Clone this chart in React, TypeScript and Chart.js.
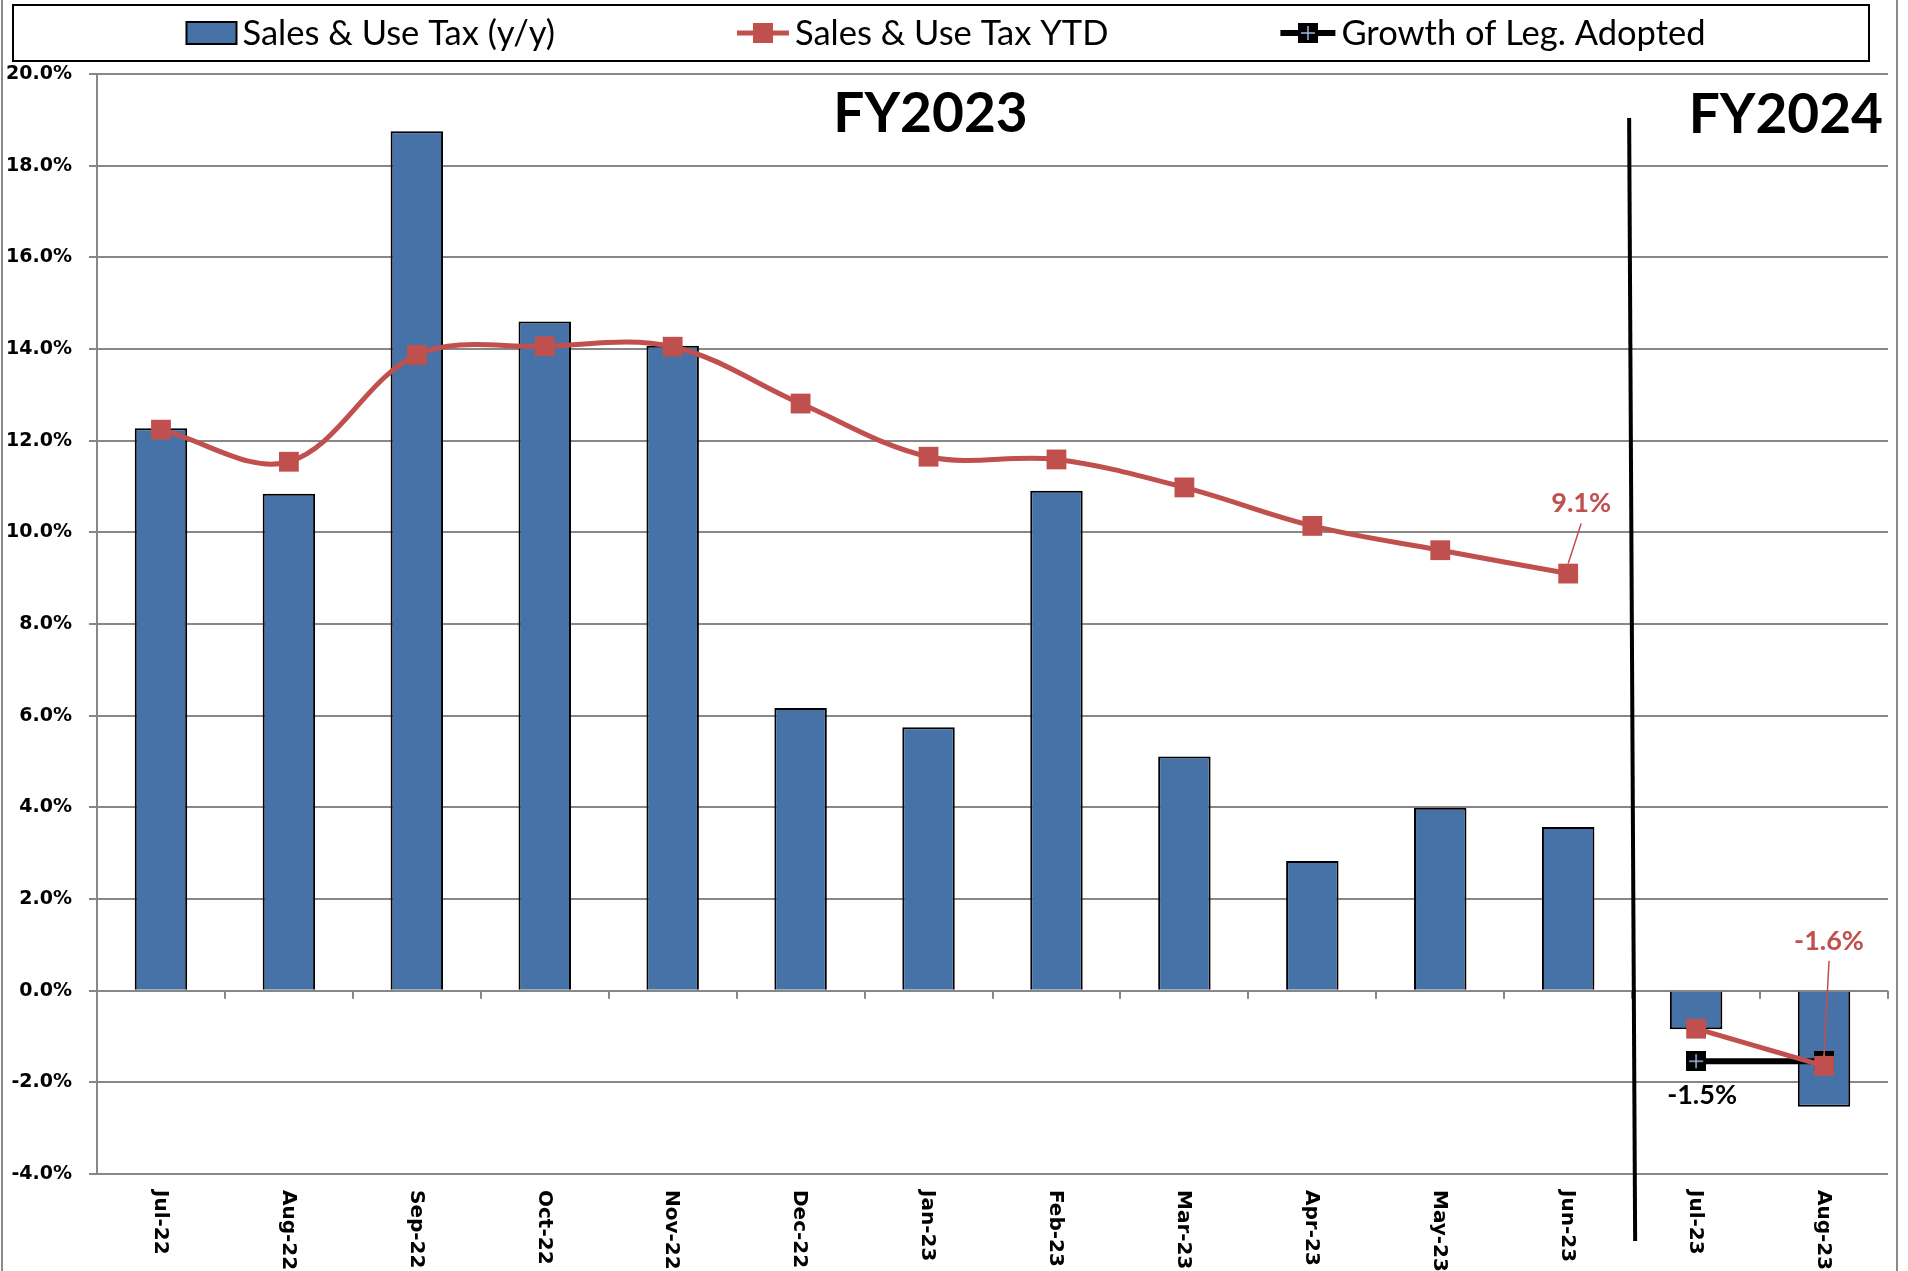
import React, { useEffect, useRef } from 'react';
import { Chart, registerables } from 'chart.js';

Chart.register(...registerables);

// ---- data ----
const categories = [
  'Jul-22', 'Aug-22', 'Sep-22', 'Oct-22', 'Nov-22', 'Dec-22', 'Jan-23',
  'Feb-23', 'Mar-23', 'Apr-23', 'May-23', 'Jun-23', 'Jul-23', 'Aug-23',
];
const salesUseTaxYoY = [12.27, 10.84, 18.75, 14.6, 14.07, 6.17, 5.75, 10.91, 5.11, 2.83, 3.99, 3.57, -0.84, -2.53];
const salesUseTaxYTD = [12.24, 11.54, 13.87, 14.06, 14.05, 12.81, 11.65, 11.59, 10.98, 10.14, 9.61, 9.1, -0.83, -1.64];
const growthLegAdopted: (number | null)[] = [null, null, null, null, null, null, null, null, null, null, null, null, -1.54, -1.54];
const seriesNames = ['Sales & Use Tax (y/y)', 'Sales & Use Tax YTD', 'Growth of Leg. Adopted'];
const fiscalYearLabels = ['FY2023', 'FY2024'];
const fy2024StartIndex = 12;
const yMin = -4;
const yMax = 20;
const yStep = 2;

// ---- styles ----
const BLUE = '#4672A8';
const RED = '#C0504D';
const GRID = '#878787';
const TICK_FONT = 'DejaVu Sans';
const LABEL_FONT = 'Lato';

function makeGrowthMarker(size: number): HTMLCanvasElement {
  const c = document.createElement('canvas');
  c.width = size;
  c.height = size;
  const g = c.getContext('2d')!;
  g.fillStyle = '#000';
  g.fillRect(0, 0, size, size);
  g.strokeStyle = '#9DB9DE';
  g.lineWidth = 1.5;
  g.beginPath();
  g.moveTo(size / 2, 3);
  g.lineTo(size / 2, size - 3);
  g.moveTo(3, size / 2);
  g.lineTo(size - 3, size / 2);
  g.stroke();
  return c;
}

const fmt = (v: number) => `${v.toFixed(1)}%`;

export default function App() {
  const canvasRef = useRef<HTMLCanvasElement | null>(null);

  useEffect(() => {
    document.body.style.margin = '0';
    document.body.style.overflow = 'hidden';
    const canvas = canvasRef.current;
    if (!canvas) return;
    const growthMarker = makeGrowthMarker(20);

    const decor = {
      id: 'decor',
      beforeDraw(chart: any) {
        const ctx = chart.ctx;
        ctx.save();
        ctx.fillStyle = '#fff';
        ctx.fillRect(0, 0, chart.width, chart.height);
        ctx.restore();
      },
      beforeDatasetsDraw(chart: any) {
        const ctx = chart.ctx;
        const xs = chart.scales.x;
        const ys = chart.scales.y;
        const y0 = ys.getPixelForValue(0);
        ctx.save();
        ctx.strokeStyle = GRID;
        ctx.lineWidth = 2;
        ctx.beginPath();
        for (let i = 0; i <= categories.length; i++) {
          const x = i < categories.length
            ? xs.getPixelForValue(i) - (xs.getPixelForValue(1) - xs.getPixelForValue(0)) / 2
            : chart.chartArea.right;
          ctx.moveTo(Math.round(x), y0);
          ctx.lineTo(Math.round(x), y0 + 8);
        }
        ctx.stroke();
        ctx.restore();
      },
      afterDatasetsDraw(chart: any) {
        const ctx = chart.ctx;
        const xs = chart.scales.x;
        const area = chart.chartArea;
        ctx.save();
        // fiscal-year divider
        const xd = (xs.getPixelForValue(fy2024StartIndex - 1) + xs.getPixelForValue(fy2024StartIndex)) / 2;
        ctx.strokeStyle = '#000';
        ctx.lineWidth = 4;
        ctx.beginPath();
        ctx.moveTo(xd - 3, area.top + 44);
        ctx.lineTo(xd + 3, chart.height - 30);
        ctx.stroke();

        // fiscal-year labels
        ctx.fillStyle = '#000';
        ctx.font = `bold 55px ${LABEL_FONT}`;
        ctx.textBaseline = 'alphabetic';
        ctx.textAlign = 'center';
        ctx.fillText(fiscalYearLabels[0], xs.getPixelForValue(6) + 2, area.top + 58);
        ctx.textAlign = 'right';
        ctx.fillText(fiscalYearLabels[1], area.right - 5, area.top + 59);

        // x category labels, rotated to read top to bottom
        ctx.font = `bold 20px ${TICK_FONT}`;
        ctx.textAlign = 'left';
        ctx.textBaseline = 'middle';
        categories.forEach((c, i) => {
          ctx.save();
          ctx.translate(xs.getPixelForValue(i) - 1, area.bottom + 16);
          ctx.rotate(Math.PI / 2);
          ctx.fillText(c, 0, 0);
          ctx.restore();
        });

        // data labels
        const ytd23 = chart.getDatasetMeta(1).data[fy2024StartIndex - 1];
        const ytd24 = chart.getDatasetMeta(2).data[categories.length - 1];
        const gr = chart.getDatasetMeta(3).data[fy2024StartIndex];
        ctx.font = `bold 27px ${LABEL_FONT}`;
        ctx.textAlign = 'center';
        ctx.textBaseline = 'middle';
        // 9.1%
        ctx.fillStyle = RED;
        ctx.strokeStyle = RED;
        ctx.lineWidth = 1.5;
        let lx = ytd23.x + 13;
        let ly = ytd23.y - 70;
        ctx.fillText(fmt(salesUseTaxYTD[fy2024StartIndex - 1]), lx, ly);
        ctx.beginPath();
        ctx.moveTo(lx, ly + 20);
        ctx.lineTo(ytd23.x, ytd23.y - 10);
        ctx.stroke();
        // -1.6%
        lx = ytd24.x + 5;
        ly = ytd24.y - 125;
        ctx.fillText(fmt(salesUseTaxYTD[categories.length - 1]), lx, ly);
        ctx.beginPath();
        ctx.moveTo(lx, ly + 20);
        ctx.lineTo(ytd24.x, ytd24.y - 10);
        ctx.stroke();
        // -1.5%
        ctx.fillStyle = '#000';
        ctx.fillText(fmt(growthLegAdopted[fy2024StartIndex] as number), gr.x + 6, gr.y + 34);
        ctx.restore();
      },
      afterDraw(chart: any) {
        const ctx = chart.ctx;
        ctx.save();
        // outer frame
        ctx.strokeStyle = '#8a8a8a';
        ctx.lineWidth = 2;
        ctx.beginPath();
        ctx.moveTo(2, 0);
        ctx.lineTo(2, chart.height);
        ctx.moveTo(1897, 0);
        ctx.lineTo(1897, chart.height);
        ctx.stroke();

        // legend
        ctx.strokeStyle = '#000';
        ctx.lineWidth = 2;
        ctx.strokeRect(13, 5, 1856, 56);
        ctx.font = `34.5px ${LABEL_FONT}`;
        ctx.textBaseline = 'middle';
        ctx.textAlign = 'left';
        const markerW = [50, 52, 55];
        const textGap = 6;
        const itemGaps = [182, 172];
        const widths = seriesNames.map((n, i) => markerW[i] + textGap + ctx.measureText(n).width);
        const total = widths.reduce((a, b) => a + b, 0) + itemGaps.reduce((a, b) => a + b, 0);
        let x = 946 - total / 2;
        const cy = 33;
        seriesNames.forEach((name, i) => {
          if (i === 0) {
            ctx.fillStyle = BLUE;
            ctx.fillRect(x, cy - 11, markerW[0], 22);
            ctx.strokeStyle = '#000';
            ctx.lineWidth = 2;
            ctx.strokeRect(x, cy - 11, markerW[0], 22);
          } else if (i === 1) {
            ctx.strokeStyle = RED;
            ctx.lineWidth = 5;
            ctx.beginPath();
            ctx.moveTo(x, cy);
            ctx.lineTo(x + markerW[1], cy);
            ctx.stroke();
            ctx.fillStyle = RED;
            ctx.fillRect(x + markerW[1] / 2 - 10, cy - 10, 20, 20);
          } else {
            ctx.strokeStyle = '#000';
            ctx.lineWidth = 6;
            ctx.beginPath();
            ctx.moveTo(x, cy);
            ctx.lineTo(x + markerW[2], cy);
            ctx.stroke();
            ctx.drawImage(growthMarker, x + markerW[2] / 2 - 10, cy - 10);
          }
          ctx.fillStyle = '#000';
          ctx.fillText(name, x + markerW[i] + textGap, cy + 1);
          x += widths[i] + (itemGaps[i] || 0);
        });
        ctx.restore();
      },
    };

    const chart = new Chart(canvas, {
      type: 'bar',
      data: {
        labels: categories,
        datasets: [
          {
            type: 'bar',
            label: seriesNames[0],
            data: salesUseTaxYoY,
            backgroundColor: BLUE,
            borderColor: '#000',
            borderWidth: 2,
            barPercentage: 0.41,
            categoryPercentage: 1,
            order: 3,
          },
          {
            type: 'line',
            label: seriesNames[1],
            data: salesUseTaxYTD.map((v, i) => (i < fy2024StartIndex ? v : null)),
            borderColor: RED,
            borderWidth: 5,
            tension: 0.35,
            pointStyle: 'rect',
            pointRadius: 14,
            pointBackgroundColor: RED,
            pointBorderWidth: 0,
            spanGaps: false,
            order: 1,
          },
          {
            type: 'line',
            label: seriesNames[1],
            data: salesUseTaxYTD.map((v, i) => (i >= fy2024StartIndex ? v : null)),
            borderColor: RED,
            borderWidth: 5,
            tension: 0,
            pointStyle: 'rect',
            pointRadius: 14,
            pointBackgroundColor: RED,
            pointBorderWidth: 0,
            spanGaps: false,
            order: 1,
          },
          {
            type: 'line',
            label: seriesNames[2],
            data: growthLegAdopted,
            borderColor: '#000',
            borderWidth: 6,
            tension: 0,
            pointStyle: growthMarker,
            pointRadius: 10,
            order: 2,
          },
        ] as any,
      },
      options: {
        responsive: false,
        animation: false,
        events: [],
        layout: { padding: { left: 0, right: 20, top: 74, bottom: 0 } },
        plugins: {
          legend: { display: false },
          tooltip: { enabled: false },
          title: { display: false },
        },
        scales: {
          x: {
            grid: { display: false },
            border: { display: false },
            ticks: { display: false },
            afterFit: (s: any) => { s.height = 97; },
          },
          y: {
            min: yMin,
            max: yMax,
            ticks: {
              stepSize: yStep,
              padding: 17,
              color: '#000',
              font: { family: TICK_FONT, size: 19, weight: 'bold' },
              callback: (v: any) => `${Number(v).toFixed(1)}%`,
            },
            grid: { color: GRID, lineWidth: 2, tickLength: 8 },
            border: { display: true, color: GRID, width: 2 },
            afterFit: (s: any) => { s.width = 97; },
          },
        },
      } as any,
      plugins: [decor],
    });

    return () => chart.destroy();
  }, []);

  return (
    <div style={{ width: 1908, height: 1271 }}>
      <canvas ref={canvasRef} width={1908} height={1271} style={{ display: 'block' }} />
    </div>
  );
}
